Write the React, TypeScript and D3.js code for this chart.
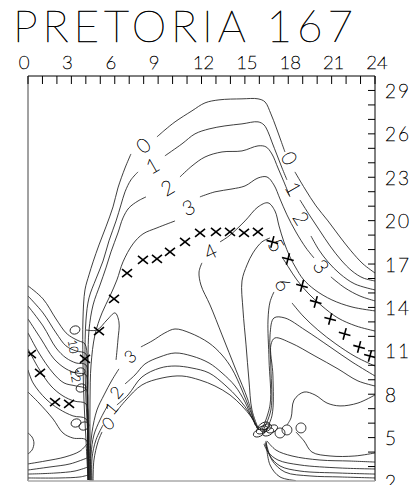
import React from "react";
import * as d3 from "d3";

type Pt = [number, number];

// Axis values
const hourTicks = d3.range(0, 25);
const hourLabels = [0, 3, 6, 9, 12, 15, 18, 21, 24];
const kmTicks = d3.range(3, 30);
const kmLabels = [29, 26, 23, 20, 17, 14, 11, 8, 5, 2];

// Main arch contours (hour, km)
const archLines: Pt[][] = [
  [[4.15, 2.07], [4.01, 4.84], [3.87, 7.6], [3.8, 10.37], [3.8, 13.13], [3.94, 15.21], [4.22, 16.25], [4.5, 17.15], [4.91, 18.32], [5.39, 19.57], [5.88, 20.95], [6.22, 22.26], [6.71, 23.64], [7.12, 24.61]],
  [[8.92, 25.79], [9.47, 26.27], [10.17, 26.83], [11.34, 27.59], [12.24, 28.14], [13.21, 28.35], [14.8, 28.42], [15.91, 28.42], [16.39, 28.21], [16.8, 27.38], [17.15, 26.48], [17.5, 25.51], [17.77, 24.75]],
  [[18.46, 23.37], [19.16, 22.19], [19.92, 21.02], [20.75, 19.98], [21.58, 18.87], [22.34, 17.91], [23.17, 17.01], [24.0, 16.38]],
  [[4.22, 2.07], [4.15, 4.84], [4.01, 7.6], [3.94, 10.37], [4.01, 13.13], [4.22, 14.66], [4.7, 15.97], [5.19, 17.21], [5.6, 18.6], [6.09, 19.98], [6.43, 21.09], [6.71, 21.99], [7.12, 22.82], [7.61, 23.37]],
  [[9.47, 24.48], [10.65, 25.31], [11.55, 26.0], [12.52, 26.34], [13.62, 26.55], [14.8, 26.69], [15.91, 26.83], [16.32, 26.62], [16.6, 26.14], [16.87, 25.44], [17.22, 24.54], [17.57, 23.64], [17.91, 22.82]],
  [[18.81, 21.43], [19.5, 20.33], [20.19, 19.29], [20.89, 18.25], [21.65, 17.28], [22.41, 16.52], [23.17, 16.04], [24.0, 15.83]],
  [[4.29, 2.07], [4.22, 4.84], [4.15, 7.6], [4.15, 10.37], [4.22, 12.44], [4.5, 14.17], [4.98, 15.55], [5.39, 16.73], [5.74, 17.84], [6.22, 19.15], [6.57, 20.19], [6.98, 20.88], [7.61, 21.36], [8.16, 21.64]],
  [[10.51, 23.02], [11.34, 23.78], [12.24, 24.4], [13.42, 24.75], [14.8, 24.82], [15.91, 25.17], [16.46, 25.1], [16.87, 24.61], [17.29, 23.64], [17.7, 22.68], [18.12, 21.64]],
  [[19.57, 18.94], [20.12, 17.98], [20.75, 17.15], [21.58, 16.32], [22.61, 15.62], [24.0, 15.21]],
  [[4.36, 2.07], [4.29, 4.84], [4.29, 7.6], [4.36, 10.02], [4.63, 12.1], [5.12, 13.62], [5.67, 14.79], [6.15, 15.9], [6.57, 17.15], [7.26, 18.39], [7.95, 19.08], [8.92, 19.5], [10.17, 19.98]],
  [[11.89, 21.64], [12.93, 21.99], [14.11, 22.19], [15.01, 22.4], [15.91, 22.95], [16.53, 23.02], [17.01, 22.47], [17.43, 21.5], [17.91, 20.4], [18.53, 19.22], [19.23, 18.11], [19.78, 17.42]],
  [[20.95, 16.11], [21.92, 15.35], [22.96, 14.79], [24.0, 14.45]],
  [[15.7, 5.87], [15.21, 7.6], [14.38, 9.68], [13.42, 12.1], [12.59, 14.17], [11.96, 15.55], [11.83, 16.45], [12.03, 17.08]],
  [[13.28, 18.53], [13.9, 18.94], [15.01, 19.98], [15.91, 20.95], [16.6, 21.23], [17.08, 20.67], [17.36, 19.64], [17.7, 18.53], [18.12, 17.49], [18.53, 16.73], [19.02, 15.97], [19.85, 15.21], [21.02, 14.52], [22.41, 14.03], [24.0, 13.76]],
];

// Contours on the evening slope and around the afternoon bundle
const slopeLines: Pt[][] = [
  [[15.91, 5.67], [15.49, 6.91], [15.28, 8.98], [15.08, 11.41], [14.87, 13.83], [14.8, 15.83], [15.15, 16.94], [15.56, 17.77], [16.18, 18.53], [16.74, 18.8]],
  [[17.57, 17.49], [18.05, 16.73], [18.6, 15.9], [19.36, 15.0], [20.33, 14.1], [21.44, 13.27], [22.68, 12.72], [24.0, 12.37]],
  [[16.18, 5.53], [16.74, 7.26], [16.67, 10.37], [16.6, 13.13], [16.74, 14.38], [17.01, 15.07]],
  [[18.26, 14.31], [19.02, 13.41], [20.05, 12.44], [21.3, 11.47], [22.68, 10.58], [24.0, 9.95]],
  [[16.25, 5.46], [16.8, 6.91], [16.8, 9.81], [16.74, 12.1], [17.01, 13.27], [17.77, 13.27], [19.16, 12.44], [20.89, 11.27], [22.41, 10.23], [24.0, 9.26]],
  [[16.39, 5.39], [16.87, 6.5], [16.94, 9.26], [16.8, 11.41], [17.08, 11.89], [18.19, 11.54], [19.85, 10.64], [21.44, 9.75], [22.82, 8.92], [24.0, 8.57]],
  [[17.91, 5.87], [18.19, 6.36], [18.4, 7.6], [19.09, 8.15], [19.85, 7.95], [20.68, 7.39], [21.58, 7.19], [22.82, 7.39], [24.0, 7.95]],
];

// Low-level contours between the two bundles
const caveLines: Pt[][] = [
  [[4.29, 2.0], [4.29, 3.8], [4.43, 5.39], [4.77, 6.91], [5.26, 7.95], [5.81, 8.98], [6.29, 9.75]],
  [[7.81, 11.27], [8.58, 11.68], [9.47, 12.24], [10.17, 12.51], [11.2, 12.24], [12.52, 11.54], [13.42, 10.71], [14.11, 9.75], [14.8, 8.29], [15.35, 6.91], [15.84, 5.67]],
  [[4.36, 2.0], [4.36, 3.8], [4.56, 5.18], [4.98, 6.22], [5.53, 7.26]],
  [[6.71, 8.71], [7.4, 9.33], [8.09, 10.09], [9.13, 10.58], [10.17, 10.85], [11.34, 10.64], [12.52, 10.16], [13.42, 9.47], [14.32, 8.57], [15.01, 7.46], [15.49, 6.36], [15.91, 5.6]],
  [[4.43, 2.0], [4.43, 3.59], [4.7, 4.84], [5.19, 5.87]],
  [[6.15, 7.26], [6.92, 7.95], [7.88, 9.19], [9.13, 9.81], [10.17, 9.95], [11.34, 9.81], [12.52, 9.47], [13.62, 8.64], [14.59, 7.67], [15.35, 6.63], [15.91, 5.53]],
  [[4.5, 2.0], [4.56, 3.45], [4.84, 4.7], [5.12, 5.39]],
  [[6.09, 6.77], [6.78, 7.6], [7.88, 8.64], [9.27, 9.12], [10.65, 9.26], [11.89, 8.98], [12.93, 8.57], [13.97, 7.95], [14.8, 7.19], [15.49, 6.36], [15.98, 5.53]],
  [[4.01, 12.44], [4.77, 12.44], [5.46, 13.13], [6.02, 13.62], [6.29, 13.0], [6.22, 11.75], [6.09, 10.37]],
];

// Night-time contours entering from the left edge
const leftFan: Pt[][] = [
  [[0, 15.49], [1.04, 14.59], [1.94, 13.2], [2.63, 12.24], [3.11, 11.89], [3.53, 11.68], [3.94, 11.47], [4.08, 8.9], [4.12, 5.5], [4.15, 2.07]],
  [[0, 14.79], [1.04, 13.62], [1.94, 12.24], [2.63, 11.34], [3.32, 10.99], [4.01, 10.78], [4.1, 8.5], [4.13, 5.5], [4.16, 2.07]],
  [[0, 14.1], [1.04, 12.72], [1.94, 11.2], [2.63, 10.51], [3.32, 10.16], [4.01, 10.02], [4.1, 8.0], [4.14, 5.5], [4.17, 2.07]],
  [[0, 13.2], [0.9, 11.82], [1.8, 10.44], [2.63, 9.75], [3.32, 9.47], [4.01, 9.33], [4.1, 7.5], [4.15, 5.0], [4.18, 2.07]],
  [[0, 12.24], [0.76, 10.85], [1.73, 9.47], [2.49, 8.78], [3.32, 8.57], [4.01, 8.36], [4.12, 6.8], [4.16, 4.8], [4.19, 2.07]],
  [[0, 11.13], [0.76, 9.75], [1.59, 8.57], [2.42, 7.88], [3.18, 7.53], [4.01, 7.33], [4.12, 5.9], [4.17, 4.2], [4.2, 2.07]],
  [[0, 9.68], [0.35, 8.78], [1.24, 7.67], [2.14, 6.98], [3.11, 6.5], [4.01, 6.29], [4.13, 5.0], [4.18, 3.5], [4.21, 2.07]],
  [[0, 8.15], [0.76, 7.39], [1.73, 6.29], [2.42, 5.32], [3.11, 4.97], [4.01, 4.84], [4.15, 3.5], [4.22, 2.07]],
  [[0, 3.18], [1.18, 3.38], [2.56, 3.66], [3.6, 4.07], [4.08, 4.56]],
  [[0, 2.76], [1.52, 2.97], [2.9, 3.18], [4.08, 3.59]],
  [[0, 2.48], [1.87, 2.55], [3.25, 2.69], [4.15, 2.97]],
  [[0, 2.21], [2.21, 2.21], [3.6, 2.28], [4.15, 2.41]],
  [[0, 5.32], [0.28, 5.04], [0.41, 4.63], [0.28, 4.14], [0, 3.87]],
];

// Contours fanning from the afternoon bundle to the right edge, near the ground
const bottomRight: Pt[][] = [
  [[16.46, 4.7], [16.87, 3.45], [17.77, 2.62], [19.5, 2.35], [21.58, 2.28], [24.0, 2.21]],
  [[16.39, 4.63], [16.74, 3.73], [17.43, 3.04], [18.81, 2.69], [21.58, 2.55], [24.0, 2.48]],
  [[16.32, 4.56], [16.6, 4.0], [17.29, 3.45], [18.81, 3.11], [21.58, 2.9], [24.0, 2.83]],
  [[16.53, 4.77], [17.15, 4.14], [18.26, 3.73], [20.19, 3.45], [22.27, 3.38], [24.0, 3.31]],
  [[18.53, 5.39], [19.09, 4.77], [19.64, 4.0], [20.89, 3.73], [22.61, 3.73], [24.0, 3.94]],
  [[16.46, 4.77], [16.74, 3.11], [17.43, 2.28], [18.53, 2.03]],
];

// Small closed contours (hour, km)
const leftLoops: Pt[] = [[3.25, 12.44], [3.67, 8.43], [3.32, 6.01], [3.87, 5.8], [3.6, 9.54]];
const knotLoops: Pt[] = [[16.18, 5.53], [16.46, 5.67], [16.6, 5.39], [15.98, 5.32], [16.87, 5.6], [16.32, 5.8]];
const rightRings: Pt[] = [[17.43, 5.32], [17.91, 5.53], [18.88, 5.67]];

// Contour level labels
const levelText = ["0", "1", "2", "3", "4", "0", "1", "2", "3", "5", "6", "3", "2", "1", "0", "10", "12"];
const levelHour = [7.95, 8.58, 9.61, 11.07, 12.59, 18.12, 18.4, 18.95, 20.33, 17.22, 17.7, 7.05, 6.09, 5.74, 5.53, 3.15, 3.3];
const levelKm = [25.24, 23.85, 22.33, 20.95, 17.91, 24.34, 22.26, 20.19, 16.87, 18.32, 15.62, 10.64, 8.15, 7.05, 6.01, 11.3, 9.3];
const levelAngle = [-40, -30, -30, -25, -25, 62, 60, 58, 55, 60, 60, -40, -50, -50, -40, 80, 80];

// Hourly tropopause markers
const markHour = [0.2, 0.83, 1.87, 2.84, 3.94, 4.91, 5.95, 6.85, 7.95, 8.92, 9.82, 10.86, 11.9, 13.0, 13.97, 14.94, 15.9, 16.9, 17.98, 18.95, 19.9, 20.9, 21.9, 22.9, 23.65];
const markKm = [10.78, 9.47, 7.46, 7.33, 10.44, 12.37, 14.59, 16.38, 17.28, 17.35, 17.84, 18.53, 19.15, 19.22, 19.22, 19.15, 19.22, 18.53, 17.35, 15.49, 14.38, 13.2, 12.17, 11.27, 10.64];

const FONT = "Lato";
const textStyle = { fill: "#000", stroke: "#000", strokeWidth: 0.55, fontWeight: 100 } as const;

export default function App() {
  const x = d3.scaleLinear().domain([0, 24]).range([28, 375]);
  const y = d3.scaleLinear().domain([2, 30]).range([481, 76]);
  const line = d3
    .line<Pt>()
    .x((d) => x(d[0]))
    .y((d) => y(d[1]))
    .curve(d3.curveCatmullRom.alpha(0.5));

  const contours = [...archLines, ...slopeLines, ...caveLines, ...leftFan, ...bottomRight];

  return (
    <svg
      width={413}
      height={485}
      style={{ position: "absolute", left: 0, top: 0, background: "#fff" }}
      fontFamily={FONT}
    >
      <defs>
        <clipPath id="plotArea">
          <rect x={28} y={76} width={347} height={405} />
        </clipPath>
      </defs>
      <rect width={413} height={485} fill="#fff" />

      <text x={13} y={42} fontSize={44} textLength={340} lengthAdjust="spacing" {...textStyle}>
        PRETORIA 167
      </text>

      {hourLabels.map((h) => (
        <text
          key={"hl" + h}
          x={x(h) + (String(h).length === 1 ? -4 : 2)}
          y={69}
          fontSize={18.5}
          textAnchor="middle"
          {...textStyle}
        >
          {h}
        </text>
      ))}
      {kmLabels.map((k) => (
        <text
          key={"kl" + k}
          x={385}
          y={y(k)}
          fontSize={19}
          dominantBaseline="central"
          letterSpacing={2}
          {...textStyle}
        >
          {k}
        </text>
      ))}

      <g clipPath="url(#plotArea)" fill="none" stroke="#1c1c1c" strokeWidth={0.85}>
        {contours.map((c, i) => (
          <path key={"c" + i} d={line(c) || ""} />
        ))}
        {leftLoops.map((p, i) => (
          <ellipse key={"ll" + i} cx={x(p[0])} cy={y(p[1])} rx={5} ry={4} transform={`rotate(-20 ${x(p[0])} ${y(p[1])})`} />
        ))}
        {knotLoops.map((p, i) => (
          <ellipse key={"kn" + i} cx={x(p[0])} cy={y(p[1])} rx={6} ry={3.5} transform={`rotate(-25 ${x(p[0])} ${y(p[1])})`} />
        ))}
        {rightRings.map((p, i) => (
          <circle key={"rr" + i} cx={x(p[0])} cy={y(p[1])} r={5} />
        ))}
      </g>

      <g clipPath="url(#plotArea)">
        {levelText.map((t, i) => (
          <text
            key={"lv" + i}
            x={x(levelHour[i])}
            y={y(levelKm[i])}
            fontSize={i >= 15 ? 12 : i >= 11 ? 17 : 20}
            textAnchor="middle"
            dominantBaseline="central"
            transform={`rotate(${levelAngle[i]} ${x(levelHour[i])} ${y(levelKm[i])})`}
            {...textStyle}
            strokeWidth={0.45}
          >
            {t}
          </text>
        ))}
        {markHour.map((h, i) => {
          const cx = x(h);
          const cy = y(markKm[i]);
          const plus = h > 16.5;
          return (
            <path
              key={"m" + i}
              d={plus ? "M-6,0L6,0M0,-6L0,6" : "M-5,-4L5,4M-5,4L5,-4"}
              transform={`translate(${cx},${cy})${plus ? " rotate(15)" : ""}`}
              stroke="#000"
              strokeWidth={1.6}
              fill="none"
            />
          );
        })}
      </g>

      {/* frame */}
      <line x1={28} y1={76} x2={375} y2={76} stroke="#000" strokeWidth={1} />
      <line x1={375} y1={76} x2={375} y2={481} stroke="#000" strokeWidth={1} />
      <line x1={28} y1={76} x2={28} y2={481} stroke="#444" strokeWidth={1} />
      <line x1={28} y1={481} x2={375} y2={481} stroke="#aaa" strokeWidth={1.5} />

      {hourTicks.map((h) => (
        <line key={"ht" + h} x1={x(h)} x2={x(h)} y1={76} y2={84} stroke="#000" strokeWidth={1} />
      ))}
      {kmTicks.map((k) => (
        <line key={"kt" + k} x1={375} x2={368} y1={y(k)} y2={y(k)} stroke="#000" strokeWidth={1} />
      ))}
    </svg>
  );
}
